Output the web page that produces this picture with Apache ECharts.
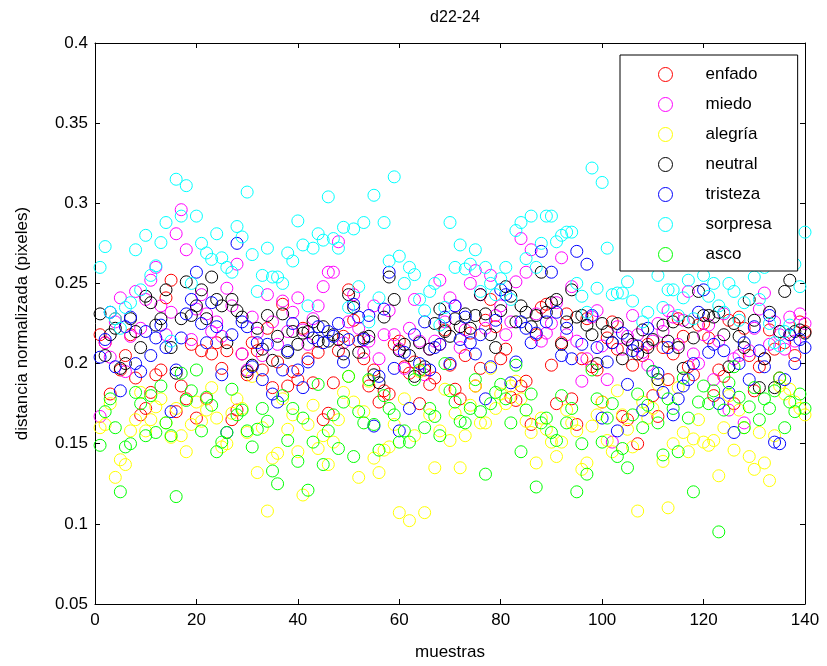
<!DOCTYPE html>
<html>
<head>
<meta charset="utf-8">
<script src="https://cdn.jsdelivr.net/npm/echarts@6/dist/echarts.min.js"></script>
<style>
  html, body { margin: 0; padding: 0; background: #fff; }
  #chart { width: 827px; height: 666px; }
</style>
</head>
<body>
<div id="chart"></div>
<script>
// Normalized distance d22-24 for each sample, one list per emotion (sample index 1..140)
const enfado = [
  .218,.213,.181,.228,.196,.205,.218,.191,.168,.172,
  .182,.193,.196,.241,.252,.170,.186,.178,.212,.166,
  .208,.178,.206,.213,.197,.208,.165,.171,.206,.193,
  .213,.208,.196,.222,.185,.201,.237,.186,.195,.190,
  .222,.203,.188,.207,.165,.169,.188,.208,.217,.246,
  .227,.214,.203,.186,.196,.176,.183,.181,.212,.214,
  .198,.194,.201,.175,.196,.187,.191,.212,.221,.199,
  .184,.178,.205,.219,.186,.197,.227,.240,.223,.203,
  .209,.179,.177,.186,.189,.162,.218,.235,.237,.199,
  .175,.213,.231,.178,.162,.203,.228,.198,.196,.176,
  .216,.226,.209,.167,.165,.199,.150,.205,.212,.180,
  .167,.210,.190,.206,.228,.217,.198,.193,.224,.225,
  .216,.180,.196,.192,.227,.175,.229,.222,.205,.183,
  .198,.203,.221,.209,.191,.213,.218,.205,.226,.220
];
const miedo = [
  .167,.213,.204,.226,.241,.195,.217,.245,.222,.240,
  .252,.260,.236,.218,.232,.281,.296,.271,.215,.234,
  .243,.231,.220,.226,.217,.247,.236,.262,.206,.196,
  .229,.219,.205,.243,.226,.212,.239,.220,.232,.241,
  .221,.212,.228,.236,.248,.257,.257,.276,.213,.226,
  .243,.222,.207,.214,.236,.203,.218,.233,.218,.209,
  .197,.222,.240,.214,.193,.209,.214,.252,.226,.241,
  .236,.210,.221,.250,.258,.243,.222,.255,.230,.236,
  .218,.226,.251,.278,.257,.271,.231,.214,.219,.225,
  .238,.266,.218,.248,.214,.189,.203,.229,.233,.211,
  .190,.151,.223,.209,.217,.230,.218,.207,.199,.214,
  .225,.220,.233,.229,.212,.227,.245,.206,.200,.218,
  .224,.190,.214,.231,.171,.203,.205,.163,.208,.222,
  .234,.244,.212,.226,.218,.209,.229,.214,.231,.225
];
const alegria = [
  .160,.162,.175,.129,.140,.137,.158,.165,.182,.158,
  .165,.173,.178,.163,.154,.172,.155,.145,.162,.176,
  .164,.171,.185,.166,.148,.150,.169,.178,.172,.157,
  .192,.132,.160,.108,.141,.144,.178,.159,.168,.145,
  .118,.162,.174,.147,.155,.137,.151,.165,.182,.192,
  .176,.129,.170,.189,.141,.132,.146,.148,.162,.107,
  .178,.102,.155,.195,.107,.168,.135,.158,.184,.152,
  .169,.135,.155,.174,.186,.163,.163,.197,.172,.181,
  .175,.186,.189,.178,.164,.157,.138,.166,.159,.151,
  .142,.151,.171,.163,.158,.134,.138,.161,.168,.176,
  .152,.145,.183,.168,.159,.148,.108,.176,.166,.172,
  .187,.139,.110,.150,.185,.157,.145,.153,.165,.151,
  .149,.152,.130,.160,.180,.146,.171,.160,.142,.134,
  .157,.138,.127,.155,.186,.181,.184,.176,.172,.168
];
const neutral = [
  .231,.205,.218,.222,.197,.200,.228,.220,.210,.242,
  .238,.224,.228,.246,.210,.194,.228,.251,.230,.236,
  .246,.228,.254,.240,.236,.213,.240,.233,.229,.195,
  .199,.222,.209,.230,.202,.217,.231,.207,.220,.212,
  .219,.220,.226,.214,.223,.214,.218,.215,.206,.243,
  .235,.207,.216,.217,.193,.188,.229,.254,.240,.208,
  .212,.205,.192,.213,.198,.209,.225,.234,.220,.217,
  .228,.223,.231,.222,.230,.243,.231,.218,.210,.233,
  .248,.242,.226,.236,.232,.223,.230,.257,.232,.238,
  .240,.212,.226,.246,.229,.230,.224,.218,.200,.225,
  .220,.213,.225,.203,.215,.212,.206,.221,.210,.215,
  .190,.224,.214,.226,.210,.197,.226,.216,.245,.230,
  .230,.229,.232,.218,.198,.225,.217,.210,.240,.227,
  .185,.203,.232,.185,.220,.245,.252,.220,.221,.219
];
const tristeza = [
  .204,.215,.232,.198,.183,.223,.229,.200,.195,.220,
  .205,.216,.224,.210,.170,.196,.216,.231,.240,.257,
  .225,.213,.238,.223,.193,.157,.218,.275,.226,.223,
  .198,.213,.190,.212,.181,.176,.196,.208,.225,.196,
  .185,.201,.216,.223,.213,.220,.217,.225,.201,.215,
  .237,.229,.215,.230,.161,.192,.234,.257,.197,.158,
  .207,.172,.218,.200,.226,.196,.210,.212,.229,.200,
  .236,.215,.229,.213,.206,.218,.178,.198,.227,.246,
  .243,.188,.201,.226,.222,.213,.219,.270,.226,.257,
  .232,.205,.222,.203,.270,.212,.262,.230,.210,.166,
  .201,.213,.158,.219,.187,.208,.211,.171,.222,.195,
  .194,.182,.210,.168,.178,.186,.190,.200,.232,.246,
  .207,.212,.175,.208,.182,.157,.200,.213,.190,.223,
  .208,.198,.230,.151,.150,.190,.218,.200,.215,.210
];
const sorpresa = [
  .260,.273,.232,.228,.222,.235,.238,.271,.246,.280,
  .255,.261,.2755,.288,.214,.315,.292,.311,.250,.292,
  .275,.269,.265,.281,.266,.260,.257,.2855,.279,.307,
  .268,.245,.255,.272,.254,.254,.250,.269,.264,.289,
  .274,.236,.272,.281,.277,.304,.278,.272,.285,.235,
  .284,.248,.288,.226,.305,.241,.288,.264,.3165,.267,
  .250,.260,.2555,.240,.233,.245,.250,.224,.235,.288,
  .260,.274,.259,.262,.271,.245,.260,.250,.243,.253,
  .260,.240,.283,.288,.2655,.292,.260,.275,.292,.292,
  .276,.280,.282,.282,.250,.242,.232,.322,.247,.313,
  .272,.243,.244,.244,.251,.239,.270,.226,.232,.262,
  .255,.235,.246,.246,.230,.241,.252,.228,.262,.255,
  .242,.250,.236,.232,.250,.245,.227,.238,.262,.254,
  .240,.260,.225,.213,.211,.220,.224,.262,.248,.282
];
const asco = [
  .149,.170,.178,.160,.120,.148,.150,.182,.175,.155,
  .180,.157,.186,.163,.155,.117,.194,.177,.183,.196,
  .158,.179,.174,.145,.151,.157,.184,.168,.171,.158,
  .148,.159,.172,.164,.133,.125,.180,.152,.172,.139,
  .166,.121,.151,.187,.137,.158,.168,.147,.176,.192,
  .142,.170,.163,.190,.162,.146,.180,.172,.168,.151,
  .158,.151,.190,.196,.160,.172,.167,.155,.200,.183,
  .176,.164,.163,.172,.190,.170,.131,.175,.182,.187,
  .178,.163,.199,.145,.171,.181,.123,.163,.166,.157,
  .152,.180,.163,.172,.120,.150,.131,.196,.178,.151,
  .166,.175,.142,.147,.135,.168,.181,.160,.174,.195,
  .163,.143,.178,.172,.145,.191,.166,.120,.176,.186,
  .175,.183,.095,.171,.188,.198,.179,.160,.173,.185,
  .165,.178,.172,.183,.191,.160,.176,.170,.181,.172
];

const seriesNames = ['enfado', 'miedo', 'alegría', 'neutral', 'tristeza', 'sorpresa', 'asco'];
const seriesValues = [enfado, miedo, alegria, neutral, tristeza, sorpresa, asco];
const seriesColors = ['#ff0000', '#ff00ff', '#ffff00', '#000000', '#0000ff', '#00ffff', '#00ff00'];

const xTicks = { min: 0, max: 140, step: 20 };
const yTicks = { min: 0.05, max: 0.4, step: 0.05 };

const FONT = 'Liberation Sans, Arial, Helvetica, sans-serif';

const chart = echarts.init(document.getElementById('chart'), null, { renderer: 'canvas' });

const lineStyle = { color: '#000', width: 1 };

function axisCommon(extra) {
  return Object.assign({
    axisLine: { show: true, onZero: false, lineStyle },
    axisTick: { show: true, inside: true, length: 5, lineStyle },
    splitLine: { show: false },
  }, extra);
}

const option = {
  animation: false,
  backgroundColor: '#fff',
  title: {
    text: 'd22-24',
    left: 450, top: 5,
    textAlign: 'center',
    textStyle: { fontFamily: FONT, fontSize: 16, fontWeight: 'normal', color: '#000' }
  },
  grid: { left: 95, top: 43, right: 22, bottom: 61, containLabel: false },
  legend: {
    orient: 'vertical',
    left: 620, top: 55,
    padding: [11, 26, 8, 38],
    itemWidth: 14, itemHeight: 14,
    itemGap: 13,
    backgroundColor: '#fff',
    borderColor: '#000', borderWidth: 1,
    textStyle: { fontFamily: FONT, fontSize: 17, color: '#000', padding: [0, 0, 0, 28] },
    data: seriesNames.map((n, i) => ({
      name: n,
      icon: 'circle',
      itemStyle: { color: 'transparent', borderColor: seriesColors[i], borderWidth: 1 }
    }))
  },
  xAxis: [
    axisCommon({
      type: 'value', position: 'bottom',
      min: xTicks.min, max: xTicks.max, interval: xTicks.step,
      name: 'muestras', nameLocation: 'middle', nameGap: 40,
      nameTextStyle: { fontFamily: FONT, fontSize: 17, color: '#000' },
      axisLabel: { fontFamily: FONT, fontSize: 17, color: '#000', margin: 8 }
    }),
    axisCommon({
      type: 'value', position: 'top',
      min: xTicks.min, max: xTicks.max, interval: xTicks.step,
      axisLabel: { show: false }
    })
  ],
  yAxis: [
    axisCommon({
      type: 'value', position: 'left',
      min: yTicks.min, max: yTicks.max, interval: yTicks.step,
      name: 'distancia normalizada (pixeles)', nameLocation: 'middle', nameGap: 64,
      nameTextStyle: { fontFamily: FONT, fontSize: 17, color: '#000' },
      axisLabel: {
        fontFamily: FONT, fontSize: 17, color: '#000', margin: 7,
        formatter: v => String(+v.toFixed(2))
      }
    }),
    axisCommon({
      type: 'value', position: 'right',
      min: yTicks.min, max: yTicks.max, interval: yTicks.step,
      axisLabel: { show: false }
    })
  ],
  series: seriesNames.map((n, i) => ({
    name: n,
    type: 'scatter',
    xAxisIndex: 0, yAxisIndex: 0,
    clip: false,
    symbol: 'circle',
    symbolSize: 12,
    itemStyle: { color: 'transparent', borderColor: seriesColors[i], borderWidth: 1, opacity: 1 },
    emphasis: { disabled: true },
    data: seriesValues[i].map((v, k) => [k + 1, v])
  }))
};

chart.setOption(option);
</script>
</body>
</html>
